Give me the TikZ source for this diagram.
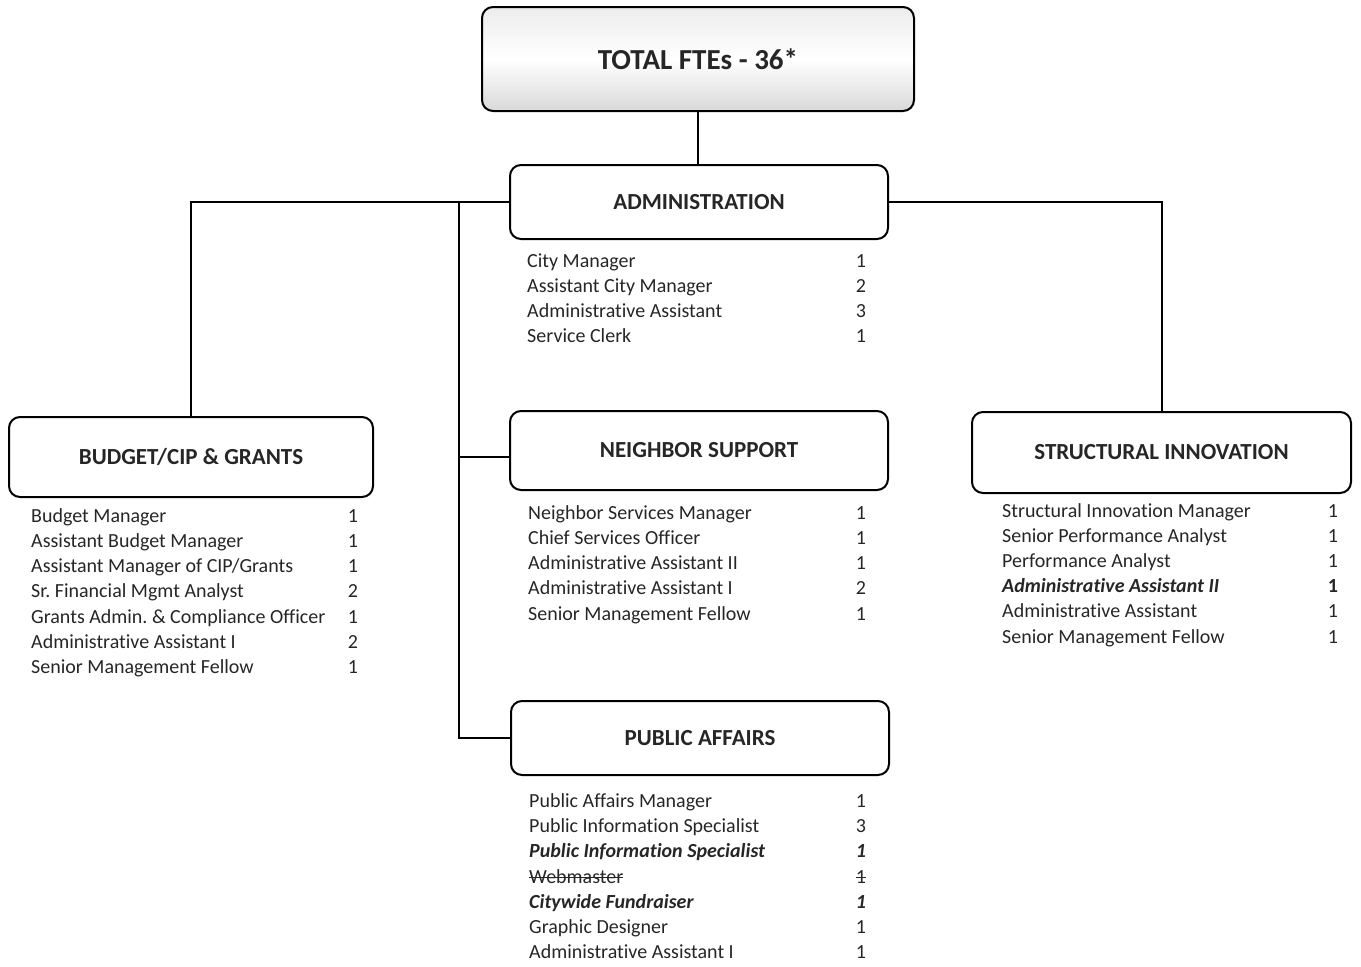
\documentclass[tikz,border=0pt]{standalone}
\usepackage{fontspec}
\setmainfont[Ligatures={NoCommon,TeX}]{Carlito}
\frenchspacing
\newcommand\strk[1]{\setbox0\hbox{#1}\rlap{\rule[0.27em]{\wd0}{0.06em}}\box0}
\newcommand\entry[6]{%
  \node[item] (#1) at (#2,#4+1.5) {#5};
  \node[num] (#1n) at (#3,#4+1.5) {#6};}
\begin{document}
\begin{tikzpicture}[x=1pt,y=-1pt,
  box/.style={draw=black, line width=2pt, rounded corners=11pt, fill=white,
    font=\fontsize{23}{27}\selectfont\bfseries, text=black!85, inner sep=0pt},
  titlebox/.style={box, top color=gray!15, bottom color=gray!30, middle color=white,
    font=\fontsize{29}{34}\selectfont\bfseries},
  item/.style={anchor=west, inner sep=0pt, text height=14pt, text depth=4pt,
    font=\fontsize{20}{24}\selectfont, text=black!85},
  num/.style={item, anchor=center},
  link/.style={line width=2pt, draw=black}]
\useasboundingbox (0,0) rectangle (1361,967);

\node[titlebox, minimum width=432pt, minimum height=104pt] (total) at (698,59) {TOTAL FTEs - 36*};
\node[box, minimum width=378pt, minimum height=74pt] (admin) at (699,202) {ADMINISTRATION};
\node[box, minimum width=364pt, minimum height=80pt] (budget) at (191,457) {BUDGET/CIP \& GRANTS};
\node[box, minimum width=378pt, minimum height=79pt] (neigh) at (699,450.5) {NEIGHBOR SUPPORT};
\node[box, minimum width=379pt, minimum height=81pt] (struct) at (1161.5,452.5) {STRUCTURAL INNOVATION};
\node[box, minimum width=378pt, minimum height=74pt] (public) at (700,738) {PUBLIC AFFAIRS};

\coordinate (jL) at (459,202);
\coordinate (nW) at ([yshift=-6pt]neigh.west);
\draw[link] (total.south) -- (total.south |- admin.north);
\draw[link] (admin.west) -| (budget.north);
\draw[link] (jL) |- (public.west);
\draw[link] (jL |- nW) -- (nW);
\draw[link] (admin.east) -| (struct.north);

% Administration
\entry{a1}{527}{861}{261}{City Manager}{1}
\entry{a2}{527}{861}{286}{Assistant City Manager}{2}
\entry{a3}{527}{861}{311}{Administrative Assistant}{3}
\entry{a4}{527}{861}{336}{Service Clerk}{1}

% Budget
\entry{b1}{31}{353}{516}{Budget Manager}{1}
\entry{b2}{31}{353}{541}{Assistant Budget Manager}{1}
\entry{b3}{31}{353}{566}{Assistant Manager of CIP/Grants}{1}
\entry{b4}{31}{353}{591}{Sr. Financial Mgmt Analyst}{2}
\entry{b5}{31}{353}{617}{Grants Admin. \& Compliance Officer}{1}
\entry{b6}{31}{353}{642}{Administrative Assistant I}{2}
\entry{b7}{31}{353}{667}{Senior Management Fellow}{1}

% Neighbor support
\entry{n1}{528}{861}{513}{Neighbor Services Manager}{1}
\entry{n2}{528}{861}{538}{Chief Services Officer}{1}
\entry{n3}{528}{861}{563}{Administrative Assistant II}{1}
\entry{n4}{528}{861}{588}{Administrative Assistant I}{2}
\entry{n5}{528}{861}{614}{Senior Management Fellow}{1}

% Structural innovation
\entry{s1}{1002}{1333}{511}{Structural Innovation Manager}{1}
\entry{s2}{1002}{1333}{536}{Senior Performance Analyst}{1}
\entry{s3}{1002}{1333}{561}{Performance Analyst}{1}
\entry{s4}{1002}{1333}{586}{\textbf{\textit{Administrative Assistant II}}}{\textbf{1}}
\entry{s5}{1002}{1333}{611}{Administrative Assistant}{1}
\entry{s6}{1002}{1333}{637}{Senior Management Fellow}{1}

% Public affairs
\entry{p1}{529}{861}{801}{Public Affairs Manager}{1}
\entry{p2}{529}{861}{826}{Public Information Specialist}{3}
\entry{p3}{529}{861}{851}{\textbf{\textit{Public Information Specialist}}}{\textbf{\textit{1}}}
\entry{p4}{529}{861}{877}{\strk{Webmaster}}{\strk{1}}
\entry{p5}{529}{861}{902}{\textbf{\textit{Citywide Fundraiser}}}{\textbf{\textit{1}}}
\entry{p6}{529}{861}{927}{Graphic Designer}{1}
\entry{p7}{529}{861}{952}{Administrative Assistant I}{1}
\end{tikzpicture}
\end{document}
